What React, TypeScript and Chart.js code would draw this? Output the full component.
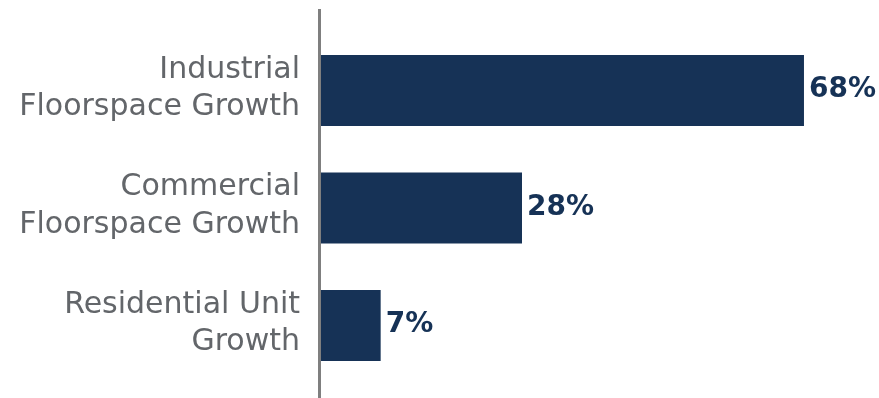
import React, { useEffect, useRef } from "react";
import { Chart, registerables } from "chart.js";

Chart.register(...registerables);

const categories: string[][] = [
  ["Industrial", "Floorspace Growth"],
  ["Commercial", "Floorspace Growth"],
  ["Residential Unit", "Growth"],
];
const values: number[] = [68, 28.3, 8.4];
const valueLabels: string[] = ["68%", "28%", "7%"];

const BAR_COLOR = "#163256";
const LABEL_COLOR = "#63666a";
const AXIS_COLOR = "#7f7f7f";

const axisLinePlugin = {
  id: "axisLine",
  beforeDatasetsDraw(chart: any) {
    const { ctx, chartArea } = chart;
    ctx.save();
    ctx.fillStyle = AXIS_COLOR;
    ctx.fillRect(chartArea.left - 3, 9, 3, chart.height - 9);
    ctx.restore();
  },
};

const valueLabelPlugin = {
  id: "valueLabels",
  afterDatasetsDraw(chart: any) {
    const { ctx } = chart;
    const meta = chart.getDatasetMeta(0);
    ctx.save();
    ctx.fillStyle = BAR_COLOR;
    ctx.font = "bold 28px 'DejaVu Sans'";
    ctx.textAlign = "left";
    ctx.textBaseline = "alphabetic";
    meta.data.forEach((bar: any, i: number) => {
      ctx.fillText(valueLabels[i], bar.x + 5, bar.y + 6.5);
    });
    ctx.restore();
  },
};

export default function App() {
  const ref = useRef<HTMLCanvasElement>(null);
  useEffect(() => {
    document.body.style.margin = "0";
    const chart = new Chart(ref.current!, {
      type: "bar",
      data: {
        labels: categories,
        datasets: [
          {
            data: values,
            backgroundColor: BAR_COLOR,
            categoryPercentage: 1,
            barPercentage: 0.604,
          },
        ],
      },
      options: {
        indexAxis: "y",
        animation: false,
        responsive: false,
        layout: { padding: { top: 31.75, bottom: 13.75, right: 4, left: 0 } },
        plugins: { legend: { display: false }, tooltip: { enabled: false } },
        scales: {
          x: { display: false, min: 0, max: 78 },
          y: {
            afterFit: (scale: any) => {
              scale.width = 321;
              scale.paddingTop = 0;
              scale.paddingBottom = 0;
            },
            grid: { display: false, drawTicks: false },
            border: { display: false },
            ticks: {
              padding: 21,
              labelOffset: -2,
              color: LABEL_COLOR,
              font: { family: "'DejaVu Sans'", size: 30, weight: "normal", lineHeight: 1.25 },
            },
          },
        },
      },
      plugins: [axisLinePlugin, valueLabelPlugin],
    });
    return () => chart.destroy();
  }, []);
  return (
    <div style={{ width: 879, height: 398 }}>
      <canvas ref={ref} width={879} height={398} />
    </div>
  );
}
